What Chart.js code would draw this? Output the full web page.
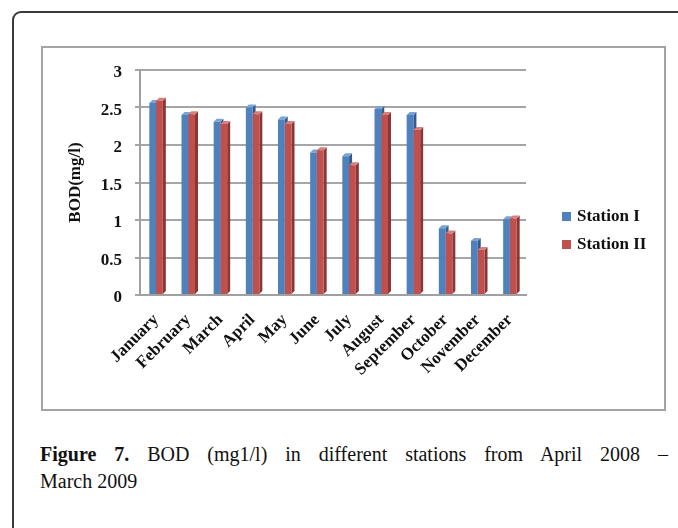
<!DOCTYPE html>
<html lang="en">
<head>
    <meta charset="UTF-8">
    <title>BOD - Figure 7</title>
    <script src="https://cdn.jsdelivr.net/npm/chart.js"></script>
    <style>
        body { margin: 0; background: #fff; width: 678px; height: 528px; overflow: hidden; position: relative; font-family: "Liberation Serif", serif; }
        .frame { position: absolute; left: 12px; top: 11px; width: 720px; height: 580px; border: 2px solid #3a3a3a; border-radius: 9px; }
        .box { position: absolute; left: 41px; top: 46px; width: 621px; height: 361px; border: 2px solid #a3a3a3; }
        .chart-wrap { position: absolute; left: 41px; top: 46px; width: 623px; height: 363px; }
        .legend { position: absolute; left: 562px; top: 202px; font-weight: bold; font-size: 17px; color: #111; }
        .legend div { height: 28px; display: flex; align-items: center; }
        .legend span.sw { display: inline-block; width: 9px; height: 9px; margin-right: 6px; }
        .caption { position: absolute; left: 40px; top: 441px; width: 628px; font-size: 20px; color: #111; line-height: 27px; }
        .caption .l1 { text-align: justify; text-align-last: justify; }
    </style>
</head>
<body>
    <div class="frame"></div>
    <div class="box"></div>
    <div class="chart-wrap"><canvas id="bodChart"></canvas></div>
    <div class="legend" id="legend"></div>
    <div class="caption">
        <div class="l1"><b>Figure 7.</b> BOD (mg1/l) in different stations from April 2008 –</div>
        <div>March 2009</div>
    </div>

    <script>
        const months = ["January", "February", "March", "April", "May", "June", "July", "August", "September", "October", "November", "December"];
        const stationI = [2.56, 2.40, 2.31, 2.50, 2.34, 1.90, 1.85, 2.48, 2.40, 0.89, 0.72, 1.01];
        const stationII = [2.59, 2.41, 2.28, 2.41, 2.28, 1.93, 1.73, 2.40, 2.20, 0.82, 0.60, 1.02];
        const seriesNames = ["Station I", "Station II"];
        const yTickLabels = ["0", "0.5", "1", "1.5", "2", "2.5", "3"];

        const faces = [
            { front: "#4F81BD", top: "#7aa3d6", side: "#35598a" },
            { front: "#C0504D", top: "#d8807d", side: "#8a3634" }
        ];

        // side + top faces drawn under the bars so the neighbour hides them
        const bars3d = {
            id: "bars3d",
            beforeDatasetsDraw(chart) {
                const ctx = chart.ctx;
                const dx = 3, dy = -3;
                chart.data.datasets.forEach((ds, i) => {
                    const meta = chart.getDatasetMeta(i);
                    meta.data.forEach((bar) => {
                        const l = bar.x - bar.width / 2, r = bar.x + bar.width / 2;
                        ctx.fillStyle = faces[i].side;
                        ctx.beginPath();
                        ctx.moveTo(r, bar.y);
                        ctx.lineTo(r + dx, bar.y + dy);
                        ctx.lineTo(r + dx, bar.base + dy);
                        ctx.lineTo(r, bar.base);
                        ctx.closePath();
                        ctx.fill();
                        ctx.fillStyle = faces[i].top;
                        ctx.beginPath();
                        ctx.moveTo(l, bar.y);
                        ctx.lineTo(l + dx, bar.y + dy);
                        ctx.lineTo(r + dx, bar.y + dy);
                        ctx.lineTo(r, bar.y);
                        ctx.closePath();
                        ctx.fill();
                    });
                });
            }
        };

        const ctx = document.getElementById("bodChart").getContext("2d");
        new Chart(ctx, {
            type: "bar",
            data: {
                labels: months,
                datasets: [
                    { label: seriesNames[0], data: stationI, backgroundColor: faces[0].front },
                    { label: seriesNames[1], data: stationII, backgroundColor: faces[1].front }
                ]
            },
            options: {
                responsive: true,
                maintainAspectRatio: false,
                animation: false,
                categoryPercentage: 0.42,
                barPercentage: 1,
                layout: { padding: { top: 24, right: 138, left: 0, bottom: 0 } },
                plugins: { legend: { display: false }, tooltip: { enabled: false } },
                scales: {
                    x: {
                        grid: { display: false, drawTicks: false },
                        border: { color: "#a0a0a0", width: 2 },
                        ticks: {
                            autoSkip: false,
                            maxRotation: 45, minRotation: 45, padding: 15, color: "#111",
                            font: { family: "Liberation Serif", size: 17, weight: "bold" }
                        },
                        afterFit(scale) { scale.height = 114; }
                    },
                    y: {
                        min: 0, max: 3,
                        grid: { color: "#a6a6a6", lineWidth: 2, tickLength: 5 },
                        border: { color: "#a0a0a0", width: 2 },
                        ticks: {
                            stepSize: 0.5, padding: 13, labelOffset: 3, color: "#111",
                            font: { family: "Liberation Serif", size: 17, weight: "bold" },
                            callback: (value, index) => yTickLabels[index]
                        },
                        title: {
                            display: true, text: "BOD(mg/l)", color: "#111",
                            padding: { top: 24, bottom: 4 },
                            font: { family: "Liberation Serif", size: 17, weight: "bold" }
                        },
                        afterFit(scale) { scale.width = 99; }
                    }
                }
            },
            plugins: [bars3d]
        });

        const legend = document.getElementById("legend");
        seriesNames.forEach((name, i) => {
            const row = document.createElement("div");
            row.innerHTML = `<span class="sw" style="background:${faces[i].front}"></span>${name}`;
            legend.appendChild(row);
        });
    </script>
</body>
</html>
